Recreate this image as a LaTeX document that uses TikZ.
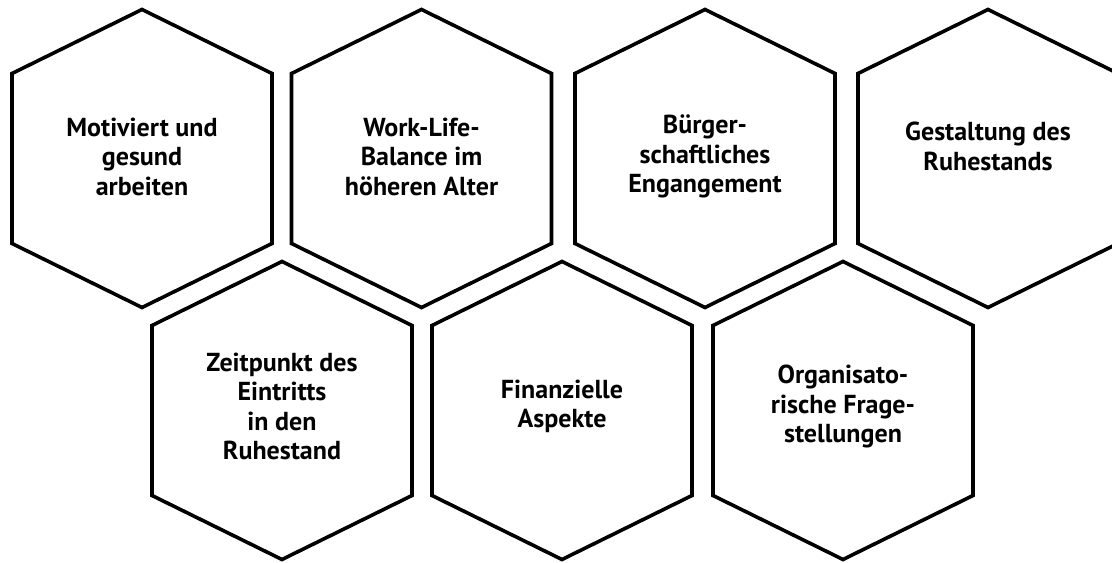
\documentclass[tikz,border=0pt]{standalone}
\usepackage{fontspec}
\setmainfont{PT Sans}
\tikzset{
    hexline/.style={draw=black, line width=1.8pt},
    hexlabel/.style={align=center, font=\bfseries\fontsize{13}{14.75}\selectfont},
    hexcell/.pic={
        \draw[hexline] (0,149)--(130,85)--(130,-85)--(0,-149)--(-130,-85)--(-130,85)--cycle;
    },
}

\begin{document}
\begin{tikzpicture}[x=0.5pt, y=0.5pt]
	\useasboundingbox (0,0) rectangle (1112,562);
	% upper row
	\begin{scope}[shift={(142,403.5)}]
			\pic {hexcell};
			\node[hexlabel] (motiviert) at (0,2) {Motiviert und\\gesund\\arbeiten};
	\end{scope}
	\begin{scope}[shift={(421.5,403.5)}]
			\pic {hexcell};
			\node[hexlabel] (worklife) at (0,2) {Work-Life-\\Balance im\\höheren Alter};
	\end{scope}
	\begin{scope}[shift={(705,403.5)}]
			\pic {hexcell};
			\node[hexlabel] (buerger) at (0,2) {Bürger-\\schaftliches\\Engangement};
	\end{scope}
	\begin{scope}[shift={(988,403.5)}]
			\pic {hexcell};
			\node[hexlabel] (gestaltung) at (0,12) {Gestaltung des\\Ruhestands};
	\end{scope}
	% lower row
	\begin{scope}[shift={(282,151.5)}]
			\pic {hexcell};
			\node[hexlabel] (zeitpunkt) at (0,4) {Zeitpunkt des\\Eintritts\\in den\\Ruhestand};
	\end{scope}
	\begin{scope}[shift={(562,151.5)}]
			\pic {hexcell};
			\node[hexlabel] (finanzen) at (0,4) {Finanzielle\\Aspekte};
	\end{scope}
	\begin{scope}[shift={(843,151.5)}]
			\pic {hexcell};
			\node[hexlabel] (organisation) at (0,4) {Organisato-\\rische Frage-\\stellungen};
	\end{scope}
\end{tikzpicture}
\end{document}
